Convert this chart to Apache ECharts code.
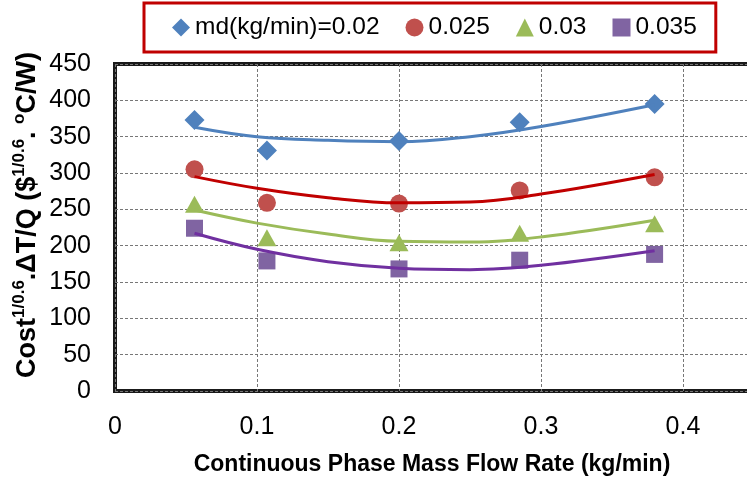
<!DOCTYPE html>
<html>
<head>
<meta charset="utf-8">
<script src="https://cdn.jsdelivr.net/npm/echarts@6/dist/echarts.min.js"></script>
<style>
html,body{margin:0;padding:0;background:#fff;}
#chart{width:747px;height:485px;}
</style>
</head>
<body>
<div id="chart"></div>
<script>
// Measured points (x = continuous phase mass flow rate, kg/min)
var xValues = [0.056, 0.107, 0.2, 0.285, 0.38];
var seriesNames = ['md(kg/min)=0.02', '0.025', '0.03', '0.035'];
var md002 = [373, 331, 344, 370, 395];
var md0025 = [305, 259, 258, 276, 294];
var md003 = [257, 211, 204, 217, 230];
var md0035 = [224, 179, 168, 180, 188];

// Trend curves
var trendX = [0.056, 0.1, 0.15, 0.2, 0.25, 0.3, 0.38];
var trend002 = [363, 350, 345, 343, 350, 364, 394];
var trend0025 = [295, 279, 266, 259, 260, 271, 298];
var trend003 = [249, 231, 216, 206, 205, 212, 235];
var trend0035 = [217, 195, 178, 169, 167, 173, 193];

// Axis ticks
var xTicks = [0, 0.1, 0.2, 0.3, 0.4, 0.5];
var yTicks = [0, 50, 100, 150, 200, 250, 300, 350, 400, 450];
var xTitle = 'Continuous Phase Mass Flow Rate (kg/min)';

var FONT = 'Liberation Sans';
var markerColors = ['#4f81bd', '#c0504d', '#9bbb59', '#8064a2'];
var lineColors = ['#4f81bd', '#c00000', '#9bbb59', '#7030a0'];
var symbols = ['diamond', 'circle', 'triangle', 'rect'];
var symbolSizes = [[20, 20], 18, [19, 17], 17];
var pointSets = [md002, md0025, md003, md0035];
var trendSets = [trend002, trend0025, trend003, trend0035];

function pairs(xs, ys) {
  return xs.map(function (x, i) { return [x, ys[i]]; });
}

var series = [];
pointSets.forEach(function (ys, i) {
  series.push({
    name: seriesNames[i],
    type: 'scatter',
    symbol: symbols[i],
    symbolSize: symbolSizes[i],
    itemStyle: { color: markerColors[i], opacity: 1 },
    data: pairs(xValues, ys),
    z: 2
  });
});
trendSets.forEach(function (ys, i) {
  series.push({
    name: 'trend' + i,
    type: 'line',
    smooth: 0.4,
    showSymbol: false,
    symbol: 'none',
    lineStyle: { color: lineColors[i], width: 3 },
    data: pairs(trendX, ys),
    z: 3,
    silent: true
  });
});

var chart = echarts.init(document.getElementById('chart'), null, { renderer: 'canvas' });
chart.setOption({
  animation: false,
  backgroundColor: '#fff',
  textStyle: { fontFamily: FONT },
  grid: {
    left: 115, top: 64, width: 710, bottom: 94,
    outerBoundsMode: 'none',
    containLabel: false,
    show: true, borderColor: '#1a1a1a', borderWidth: 4, backgroundColor: '#fff'
  },
  legend: {
    data: seriesNames,
    left: 144, top: 3,
    padding: [12, 19, 12, 28],
    itemGap: 26,
    itemWidth: 18, itemHeight: 18,
    borderColor: '#c00000', borderWidth: 3,
    textStyle: { fontFamily: FONT, fontSize: 24.5, color: '#000' }
  },
  xAxis: {
    type: 'value', min: xTicks[0], max: xTicks[xTicks.length - 1], interval: 0.1,
    axisLine: { show: false },
    axisTick: { show: false },
    axisLabel: { margin: 24, fontSize: 25, color: '#000', fontFamily: FONT },
    splitLine: { show: true, lineStyle: { color: '#777', type: [3, 2], width: 1 } }
  },
  yAxis: {
    type: 'value', min: yTicks[0], max: yTicks[yTicks.length - 1], interval: 50,
    axisLine: { show: false },
    axisTick: { show: false },
    axisLabel: { margin: 24, fontSize: 25, color: '#000', fontFamily: FONT },
    splitLine: { show: true, lineStyle: { color: '#777', type: [3, 2], width: 1 } }
  },
  graphic: [{
    type: 'text',
    x: 26, y: 215,
    rotation: Math.PI / 2,
    style: {
      text: '{b|Cost}{s|1/0.6}{b|.ΔT/Q ($}{s|1/0.6}{b|. }{s|o}{b|C/W)}',
      align: 'center', verticalAlign: 'middle',
      fill: '#000',
      rich: {
        b: { fontFamily: FONT, fontSize: 27, fontWeight: 'bold', fill: '#000', lineHeight: 30, verticalAlign: 'bottom' },
        s: { fontFamily: FONT, fontSize: 17, fontWeight: 'bold', fill: '#000', lineHeight: 18, verticalAlign: 'top' }
      }
    }
  }, {
    type: 'text',
    x: 432, y: 465,
    style: {
      text: xTitle,
      align: 'center', verticalAlign: 'middle',
      fontFamily: FONT, fontSize: 23, fontWeight: 'bold', fill: '#000'
    }
  }],
  series: series
});
</script>
</body>
</html>
